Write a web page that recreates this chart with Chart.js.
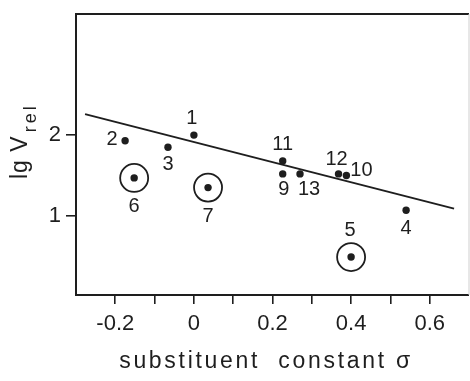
<!DOCTYPE html>
<html>
<head>
<meta charset="utf-8">
<script src="https://cdn.jsdelivr.net/npm/chart.js@4.4.0/dist/chart.umd.min.js"></script>
<style>
  html, body { margin: 0; padding: 0; background: #fff; }
</style>
</head>
<body>
<canvas id="sigmaChart" width="470" height="381"></canvas>
<script>
// compound numbers and their values
const pointIds = ['1', '2', '3', '4', '5', '6', '7', '9', '10', '11', '12', '13'];
const sigmaValues = [0.0, -0.175, -0.066, 0.54, 0.40, -0.152, 0.036, 0.226, 0.388, 0.226, 0.368, 0.27];
const lgVrelValues = [2.0, 1.93, 1.85, 1.07, 0.49, 1.47, 1.35, 1.52, 1.50, 1.68, 1.52, 1.52];
const circledIds = ['5', '6', '7'];

// regression line end points
const fitSigma = [-0.277, 0.662];
const fitLgV = [2.26, 1.09];

const xTickValues = [-0.2, -0.1, 0, 0.1, 0.2, 0.3, 0.4, 0.5, 0.6];
const xTickLabels = ['-0.2', '', '0', '', '0.2', '', '0.4', '', '0.6'];
const yTickValues = [1, 2];
const yTickLabels = ['1', '2'];

// where each number sits relative to its dot (px)
const labelOffsets = {
  '1': [-2, -17], '2': [-13, -1], '3': [0, 17], '4': [0, 18], '5': [-1, -27],
  '6': [0, 29], '7': [0, 29], '9': [1, 16], '10': [15, -5], '11': [0, -16],
  '12': [-2, -14], '13': [9, 16]
};

const ink = '#1e1e1e';
const fontFamily = '"Liberation Sans", Arial, Helvetica, sans-serif';

const points = pointIds.map((id, i) => ({ x: sigmaValues[i], y: lgVrelValues[i] }));
const circled = pointIds.map((id, i) => circledIds.includes(id) ? points[i] : null).filter(p => p);
const fitLine = fitSigma.map((s, i) => ({ x: s, y: fitLgV[i] }));

const framePlugin = {
  id: 'frame',
  afterDraw(chart) {
    const { ctx, chartArea: a } = chart;
    ctx.save();
    ctx.strokeStyle = ink;
    ctx.lineWidth = 2;
    ctx.beginPath();
    ctx.moveTo(a.right, a.top);
    ctx.lineTo(a.left, a.top);
    ctx.lineTo(a.left, a.bottom);
    ctx.lineTo(a.right, a.bottom);
    ctx.stroke();
    ctx.strokeStyle = '#cfcfcf';
    ctx.lineWidth = 1;
    ctx.beginPath();
    ctx.moveTo(a.right, a.top);
    ctx.lineTo(a.right, a.bottom);
    ctx.stroke();

    // number labels next to the dots
    const meta = chart.getDatasetMeta(0);
    ctx.fillStyle = ink;
    ctx.font = '20px ' + fontFamily;
    ctx.textAlign = 'center';
    ctx.textBaseline = 'middle';
    meta.data.forEach((el, i) => {
      const off = labelOffsets[pointIds[i]];
      ctx.fillText(pointIds[i], el.x + off[0], el.y + off[1]);
    });

    // x axis title
    ctx.font = '23px ' + fontFamily;
    ctx.letterSpacing = '2.7px';
    ctx.fillText('substituent  constant σ', 266, 362);

    // y axis title: lg V with subscript rel
    ctx.translate(27, 179);
    ctx.rotate(-Math.PI / 2);
    ctx.textAlign = 'left';
    ctx.textBaseline = 'alphabetic';
    ctx.letterSpacing = '1px';
    ctx.font = '23px ' + fontFamily;
    ctx.fillText('lg V', 0, 0);
    const w = ctx.measureText('lg V').width;
    ctx.font = '18px ' + fontFamily;
    ctx.letterSpacing = '3px';
    ctx.fillText('rel', w + 3, 9);
    ctx.restore();
  }
};

new Chart(document.getElementById('sigmaChart'), {
  type: 'scatter',
  data: {
    datasets: [
      {
        data: points,
        pointRadius: 3.7,
        pointHoverRadius: 3.7,
        pointBackgroundColor: ink,
        pointBorderWidth: 0
      },
      {
        data: circled,
        pointRadius: 14,
        pointHoverRadius: 14,
        pointBackgroundColor: 'rgba(0,0,0,0)',
        pointBorderColor: ink,
        pointBorderWidth: 1.8
      },
      {
        type: 'line',
        data: fitLine,
        borderColor: ink,
        borderWidth: 2,
        pointRadius: 0,
        fill: false
      }
    ]
  },
  options: {
    responsive: false,
    animation: false,
    layout: { autoPadding: false, padding: { left: 49, right: 1, top: 14, bottom: 46 } },
    plugins: { legend: { display: false }, tooltip: { enabled: false } },
    scales: {
      x: {
        type: 'linear',
        min: -0.3,
        max: 0.7,
        afterBuildTicks: s => { s.ticks = xTickValues.map(v => ({ value: v })); },
        afterFit: s => { s.paddingLeft = 0; s.paddingRight = 0; s.height = 40; },
        ticks: {
          autoSkip: false,
          maxRotation: 0,
          padding: 7,
          color: ink,
          font: { family: fontFamily, size: 22 },
          callback: (v, i) => xTickLabels[i]
        },
        grid: { drawOnChartArea: false, tickLength: 9, color: ink, lineWidth: 1.6 },
        border: { display: false }
      },
      y: {
        type: 'linear',
        min: 0.02,
        max: 3.5,
        afterBuildTicks: s => { s.ticks = yTickValues.map(v => ({ value: v })); },
        afterFit: s => { s.paddingTop = 0; s.paddingBottom = 0; s.width = 27; },
        ticks: {
          padding: 5,
          color: ink,
          font: { family: fontFamily, size: 22 },
          callback: (v, i) => yTickLabels[i]
        },
        grid: { drawOnChartArea: false, tickLength: 10, color: ink, lineWidth: 1.6 },
        border: { display: false }
      }
    }
  },
  plugins: [framePlugin]
});
</script>
</body>
</html>
